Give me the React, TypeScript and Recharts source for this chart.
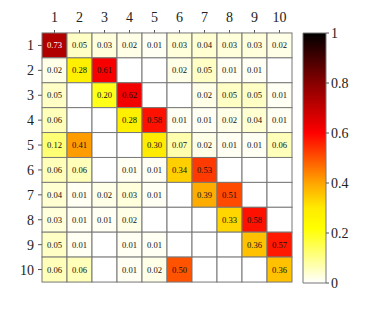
import { ScatterChart, Scatter, XAxis, YAxis, BarChart, Bar } from 'recharts';

const labels = [1, 2, 3, 4, 5, 6, 7, 8, 9, 10];

// rows of the matrix, null = empty cell
const row1 = [0.73, 0.05, 0.03, 0.02, 0.01, 0.03, 0.04, 0.03, 0.03, 0.02];
const row2 = [0.02, 0.28, 0.61, null, null, 0.02, 0.05, 0.01, 0.01, null];
const row3 = [0.05, null, 0.20, 0.62, null, null, 0.02, 0.05, 0.05, 0.01];
const row4 = [0.06, null, null, 0.28, 0.58, 0.01, 0.01, 0.02, 0.04, 0.01];
const row5 = [0.12, 0.41, null, null, 0.30, 0.07, 0.02, 0.01, 0.01, 0.06];
const row6 = [0.06, 0.06, null, 0.01, 0.01, 0.34, 0.53, null, null, null];
const row7 = [0.04, 0.01, 0.02, 0.03, 0.01, null, 0.39, 0.51, null, null];
const row8 = [0.03, 0.01, 0.01, 0.02, null, null, null, 0.33, 0.58, null];
const row9 = [0.05, 0.01, null, 0.01, 0.01, null, null, null, 0.36, 0.57];
const row10 = [0.06, 0.06, null, 0.01, 0.02, 0.50, null, null, null, 0.36];
const rows = [row1, row2, row3, row4, row5, row6, row7, row8, row9, row10];

const cbTicks = [0, 0.2, 0.4, 0.6, 0.8, 1];

// colormap stops (white -> yellow -> orange -> red -> dark red -> black)
const cmapPos = [0, 0.22, 0.3, 0.4, 0.6, 0.8, 1];
const cmapRgb = [
  [255, 255, 255],
  [255, 255, 0],
  [255, 235, 0],
  [255, 165, 0],
  [255, 0, 0],
  [135, 0, 0],
  [0, 0, 0],
];

function colorOf(v: number) {
  for (let i = 1; i < cmapPos.length; i++) {
    if (v <= cmapPos[i]) {
      const t = (v - cmapPos[i - 1]) / (cmapPos[i] - cmapPos[i - 1]);
      const a = cmapRgb[i - 1], b = cmapRgb[i];
      const c = a.map((x, k) => Math.round(x + (b[k] - x) * t));
      return `rgb(${c[0]},${c[1]},${c[2]})`;
    }
  }
  return 'rgb(0,0,0)';
}

const cells = rows.flatMap((r, ri) =>
  r.map((v, ci) => ({ x: labels[ci], y: labels[ri], v }))
);

const FONT = '"Liberation Serif", "DejaVu Serif", serif';
const CELL = 25;
const tickStyle = { fontSize: 14, fill: '#222', fontFamily: FONT };

function HeatCell(props: any) {
  const { cx, cy, payload } = props;
  const v = payload.v;
  const fill = v == null ? '#fff' : colorOf(v);
  return (
    <g>
      <rect x={cx - CELL / 2} y={cy - CELL / 2} width={CELL} height={CELL} fill={fill} stroke="#777" strokeWidth={1} />
      {v != null && (
        <text x={cx} y={cy + 3} textAnchor="middle" fontSize={8.6} fontFamily={FONT} fill={v > 0.7 ? '#fff' : '#111'}>
          {v.toFixed(2)}
        </text>
      )}
    </g>
  );
}

const empty = () => '';

export default function App() {
  return (
    <div style={{ position: 'absolute', left: 0, top: 0, width: 385, height: 327, background: '#fff' }}>
      <div style={{ position: 'absolute', left: 0, top: 0 }}>
        <ScatterChart width={385} height={327} margin={{ top: 0, right: 0, bottom: 0, left: 0 }}>
          <XAxis xAxisId="top" orientation="top" type="number" dataKey="x" domain={[0.5, 10.5]} ticks={labels}
            height={33} axisLine={false} tickSize={3} tickMargin={8} tick={tickStyle} stroke="#555" interval={0} />
          <XAxis xAxisId="bottom" orientation="bottom" type="number" dataKey="x" domain={[0.5, 10.5]} ticks={labels}
            height={45} axisLine={false} tickSize={3} tickFormatter={empty} stroke="#555" interval={0} />
          <YAxis yAxisId="left" orientation="left" type="number" dataKey="y" domain={[0.5, 10.5]} ticks={labels} reversed
            width={42} axisLine={false} tickSize={4} tickMargin={4} tick={tickStyle} stroke="#555" interval={0} />
          <YAxis yAxisId="right" orientation="right" type="number" dataKey="y" domain={[0.5, 10.5]} ticks={labels} reversed
            width={93} axisLine={false} tickSize={3} tickFormatter={empty} stroke="#555" interval={0} />
          <Scatter data={cells} xAxisId="top" yAxisId="left" shape={HeatCell} isAnimationActive={false} />
        </ScatterChart>
      </div>
      <div style={{ position: 'absolute', left: 300, top: 0 }}>
        <BarChart width={85} height={327} data={[{ v: 1 }]} margin={{ top: 33, right: 0, bottom: 44, left: 3 }}
          barCategoryGap={0}>
          <defs>
            <linearGradient id="cbar" x1="0" y1="1" x2="0" y2="0">
              {cmapPos.map((p, i) => (
                <stop key={i} offset={p} stopColor={`rgb(${cmapRgb[i].join(',')})`} />
              ))}
            </linearGradient>
          </defs>
          <XAxis hide type="category" />
          <YAxis orientation="right" type="number" domain={[0, 1]} ticks={cbTicks} width={59}
            axisLine={false} tickSize={3} tickMargin={2} tick={tickStyle} stroke="#555" interval={0} />
          <Bar dataKey="v" fill="url(#cbar)" stroke="#777" strokeWidth={1} isAnimationActive={false} />
        </BarChart>
      </div>
    </div>
  );
}
